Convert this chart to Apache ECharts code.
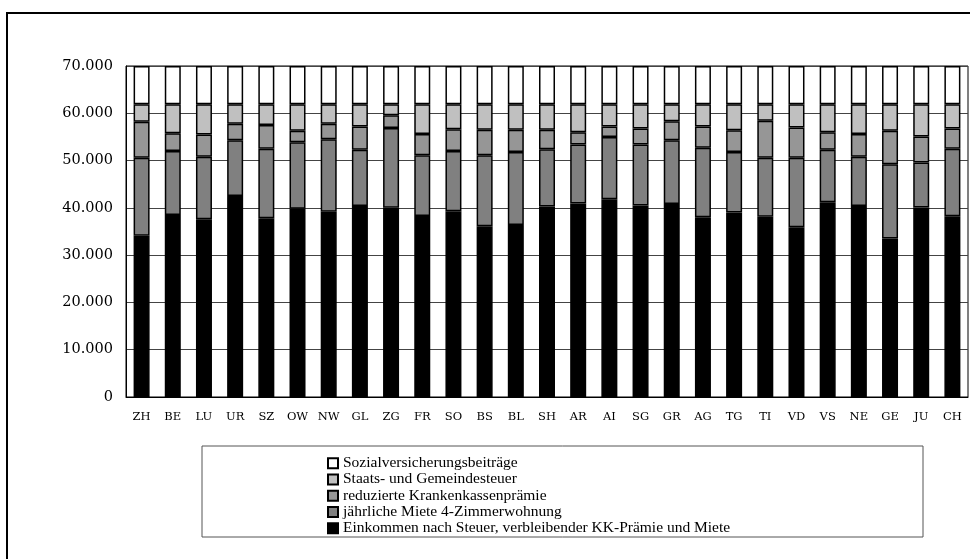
<!DOCTYPE html>
<html>
<head>
<meta charset="utf-8">
<title>Einkommen nach Kanton</title>
<script src="https://cdn.jsdelivr.net/npm/echarts@6/dist/echarts.min.js"></script>
<style>
	html, body { margin: 0; padding: 0; background: #fff; }
	#chart { width: 970px; height: 559px; }
</style>
</head>
<body>
<div id="chart"></div>
<script>
var cantons = ['ZH', 'BE', 'LU', 'UR', 'SZ', 'OW', 'NW', 'GL', 'ZG', 'FR', 'SO', 'BS', 'BL', 'SH',
	'AR', 'AI', 'SG', 'GR', 'AG', 'TG', 'TI', 'VD', 'VS', 'NE', 'GE', 'JU', 'CH'];

// Einkommen nach Steuer, verbleibender KK-Prämie und Miete
var einkommen = [34100, 38500, 37600, 42500, 37800, 39800, 39200, 40400, 40000, 38300, 39300, 36100, 36400, 40300,
	40900, 41800, 40500, 40800, 38000, 39000, 38100, 35900, 41200, 40400, 33500, 40100, 38200];
// jährliche Miete 4-Zimmerwohnung
var miete = [16500, 13500, 13200, 11800, 14700, 14100, 15300, 11900, 16900, 12800, 12700, 15000, 15400, 12100,
	12500, 13200, 12900, 13500, 14700, 12800, 12500, 14700, 11100, 10400, 15700, 9500, 14300];
// reduzierte Krankenkassenprämie
var praemie = [7600, 3800, 4700, 3500, 5000, 2400, 3300, 4900, 2700, 4500, 4600, 5400, 4700, 4100,
	2600, 2200, 3400, 4000, 4500, 4600, 7800, 6400, 3700, 4800, 7100, 5500, 4300];
// Staats- und Gemeindesteuer
var steuer = [3700, 6100, 6400, 4100, 4400, 5600, 4100, 4700, 2300, 6300, 5300, 5400, 5400, 5400,
	5900, 4700, 5100, 3600, 4700, 5500, 3500, 4900, 5900, 6300, 5600, 6800, 5100];
// Sozialversicherungsbeiträge
var sozial = [8100, 8100, 8100, 8100, 8100, 8100, 8100, 8100, 8100, 8100, 8100, 8100, 8100, 8100,
	8100, 8100, 8100, 8100, 8100, 8100, 8100, 8100, 8100, 8100, 8100, 8100, 8100];

var yTicks = [0, 10000, 20000, 30000, 40000, 50000, 60000, 70000];

var seriesDefs = [
	{ name: 'Einkommen nach Steuer, verbleibender KK-Prämie und Miete', data: einkommen, color: '#000000' },
	{ name: 'jährliche Miete 4-Zimmerwohnung', data: miete, color: '#808080' },
	{ name: 'reduzierte Krankenkassenprämie', data: praemie, color: '#969696' },
	{ name: 'Staats- und Gemeindesteuer', data: steuer, color: '#c0c0c0' },
	{ name: 'Sozialversicherungsbeiträge', data: sozial, color: '#ffffff' }
];

function fmtThousand(v) {
	return String(v).replace(/\B(?=(\d{3})+(?!\d))/g, '.');
}

var myChart = echarts.init(document.getElementById('chart'));

var series = seriesDefs.map(function(item) {
	return {
		name: item.name,
		type: 'bar',
		stack: 'total',
		barWidth: 16,
		data: item.data,
		itemStyle: {
			color: item.color,
			borderColor: '#000',
			borderWidth: 1.5
		}
	};
});

var option = {
	animation: false,
	backgroundColor: '#fff',
	graphic: [{
		// outer frame, right and bottom run off the picture
		type: 'rect',
		shape: { x: 7, y: 13, width: 1000, height: 600 },
		style: { fill: 'none', stroke: '#000', lineWidth: 2 },
		silent: true
	}, {
		// legend frame
		type: 'rect',
		shape: { x: 202, y: 446, width: 721, height: 91 },
		style: { fill: 'none', stroke: '#555', lineWidth: 1 },
		silent: true
	}],
	grid: {
		left: 126,
		right: 2,
		top: 66,
		bottom: 162,
		show: true,
		borderColor: '#000',
		borderWidth: 1
	},
	legend: {
		orient: 'vertical',
		left: 322,
		top: 450,
		itemWidth: 10,
		itemHeight: 10,
		itemGap: 0,
		icon: 'rect',
		data: seriesDefs.map(function(s) { return s.name; }).reverse(),
		textStyle: {
			fontFamily: 'Liberation Serif',
			fontSize: 15.5,
			color: '#000',
			lineHeight: 16.25
		}
	},
	xAxis: {
		type: 'category',
		data: cantons,
		axisLine: { lineStyle: { color: '#000' } },
		axisTick: { show: false },
		axisLabel: {
			interval: 0,
			margin: 14,
			color: '#000',
			fontFamily: 'DejaVu Serif',
			fontSize: 11.5
		},
		splitLine: { show: false }
	},
	yAxis: {
		type: 'value',
		min: yTicks[0],
		max: yTicks[yTicks.length - 1],
		interval: yTicks[1] - yTicks[0],
		axisLine: { show: true, lineStyle: { color: '#000' } },
		axisTick: { show: false },
		axisLabel: {
			margin: 13,
			color: '#000',
			fontFamily: 'DejaVu Serif',
			fontSize: 14.5,
			formatter: fmtThousand
		},
		splitLine: {
			show: true,
			lineStyle: { color: '#444', width: 1 }
		}
	},
	series: series
};

myChart.setOption(option);
</script>
</body>
</html>
